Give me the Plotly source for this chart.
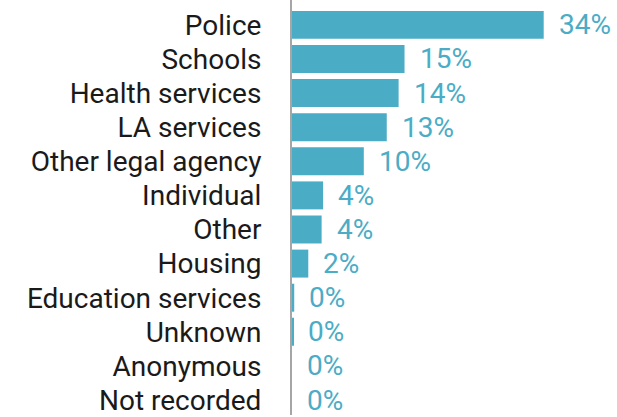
import plotly.graph_objects as go

# Referral sources and their share of referrals (%)
categories = [
    "Police", "Schools", "Health services", "LA services",
    "Other legal agency", "Individual", "Other", "Housing",
    "Education services", "Unknown", "Anonymous", "Not recorded",
]
shares = [34.0, 15.2, 14.4, 12.8, 9.7, 4.2, 4.0, 2.2, 0.3, 0.2, 0.0, 0.0]

BAR = "#4BACC6"
FONT = "Roboto, Open Sans, DejaVu Sans, sans-serif"

fig = go.Figure(
    go.Bar(
        x=shares,
        y=categories,
        orientation="h",
        marker=dict(color=BAR, line=dict(width=0)),
        width=0.82,
        hoverinfo="skip",
    )
)

# Percentage labels just past the end of each bar
annotations = [
    dict(
        x=v, y=c, xref="x", yref="y",
        text=f"{v:.0f}%", showarrow=False,
        xanchor="left", yanchor="middle", xshift=13,
        font=dict(family=FONT, size=28, color=BAR),
    )
    for c, v in zip(categories, shares)
]

fig.update_layout(
    width=617, height=417,
    margin=dict(l=292, r=0, t=0, b=0),
    paper_bgcolor="white", plot_bgcolor="white",
    showlegend=False,
    annotations=annotations,
    xaxis=dict(
        range=[0, 43.9], visible=False, showgrid=False, zeroline=False,
    ),
    yaxis=dict(
        type="category",
        range=[11.44, -0.73],
        tickmode="array", tickvals=categories,
        showline=True, linecolor="#A6A6A6", linewidth=2,
        ticks="", showgrid=False, zeroline=False,
        ticklabelstandoff=23,
        tickfont=dict(family=FONT, size=28, color="#1A1A1A"),
    ),
)

fig.write_html("out.html")
